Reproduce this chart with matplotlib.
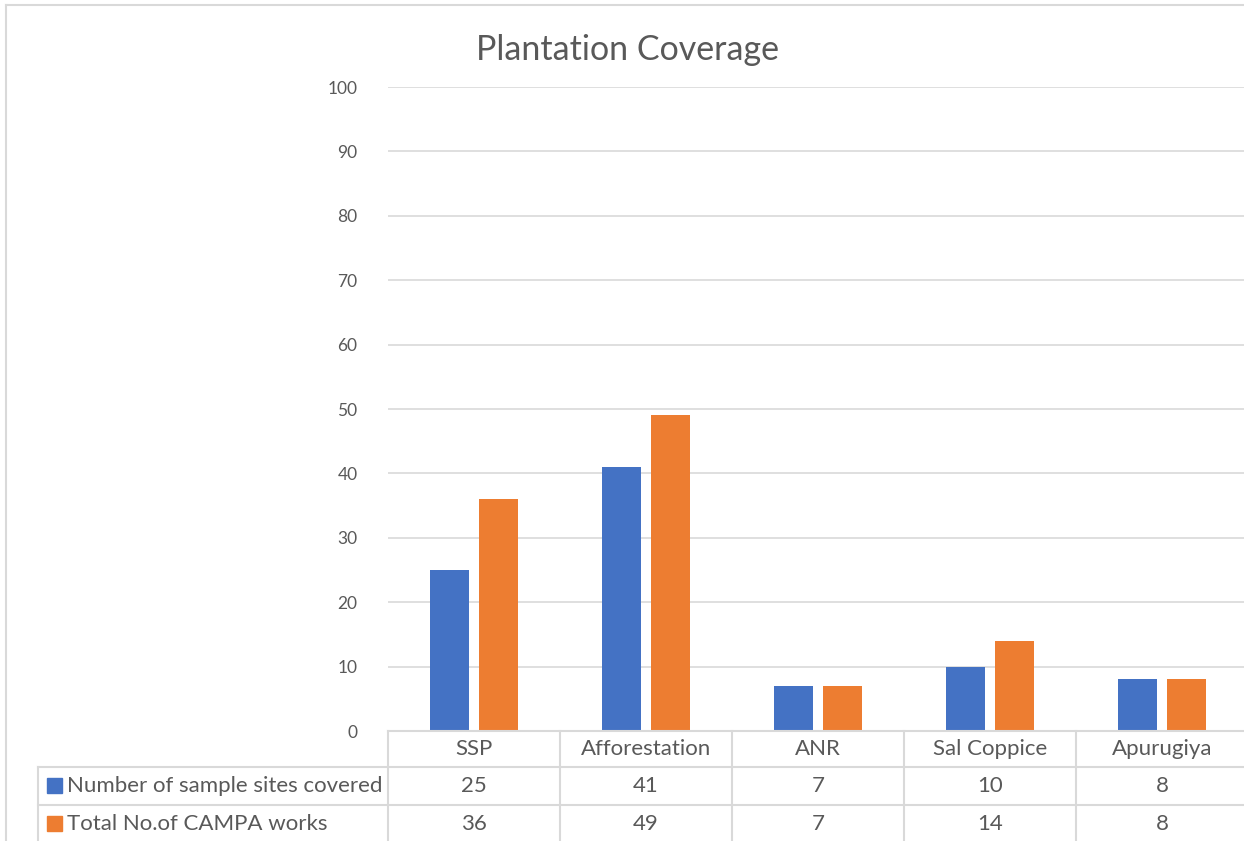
import numpy as np
import matplotlib.pyplot as plt
from matplotlib.lines import Line2D

# datos
categorias = ['SSP', 'Afforestation', 'ANR', 'Sal Coppice', 'Apurugiya']
sitios = [25, 41, 7, 10, 8]
obras = [36, 49, 7, 14, 8]
series = ['Number of sample sites covered', 'Total No.of CAMPA works']
colores = ['#4472C4', '#ED7D31']

plt.rcParams['font.family'] = ['Lato', 'DejaVu Sans']
gris = '#595959'
linea = '#d9d9d9'

W, H = 1244, 841
fig = plt.figure(figsize=(W / 100, H / 100), dpi=100)

def fx(px):
    return px / W

def fy(py):
    return 1 - py / H

x0, x1 = 388, 1248
y_top, y_zero = 87, 731
ax = fig.add_axes([fx(x0), fy(y_zero), fx(x1) - fx(x0), fy(y_top) - fy(y_zero)])

x = np.arange(len(categorias))
ancho = 0.228
desp = 0.143
ax.bar(x - desp, sitios, ancho, color=colores[0], zorder=3)
ax.bar(x + desp, obras, ancho, color=colores[1], zorder=3)

ax.set_xlim(-0.5, len(categorias) - 0.5)
ax.set_ylim(0, 100)
ax.set_yticks(range(0, 101, 10))
ax.yaxis.grid(True, color=linea, linewidth=1.2, zorder=0)
ax.set_xticks([])
for s in ax.spines.values():
    s.set_visible(False)
ax.tick_params(axis='y', length=0, pad=22, labelsize=12.5, labelcolor=gris)

fig.text(fx(627), fy(50), 'Plantation Coverage', ha='center', va='center',
         fontsize=24.5, color=gris)

# tabla de datos
col_w = (x1 - x0) / len(categorias)
filas = [731, 767, 805, 845]

def hline(y, xa, xb):
    fig.add_artist(Line2D([fx(xa), fx(xb)], [fy(y), fy(y)], color=linea, lw=1.5))

def vline(xp, ya, yb):
    fig.add_artist(Line2D([fx(xp), fx(xp)], [fy(ya), fy(yb)], color=linea, lw=1.5))

hline(filas[0], x0, W)
hline(filas[1], 38, W)
hline(filas[2], 38, W)
vline(38, filas[1], H)
for i in range(len(categorias)):
    vline(x0 + i * col_w, filas[0], H)

fs = 16
for i, cat in enumerate(categorias):
    cx = x0 + (i + 0.5) * col_w
    fig.text(fx(cx), fy(749), cat, ha='center', va='center', fontsize=fs, color=gris)
    fig.text(fx(cx), fy(786), str(sitios[i]), ha='center', va='center', fontsize=fs, color=gris)
    fig.text(fx(cx), fy(824), str(obras[i]), ha='center', va='center', fontsize=fs, color=gris)

for j, (nombre, c) in enumerate(zip(series, colores)):
    yc = 786 if j == 0 else 824
    fig.patches.append(plt.Rectangle((fx(47), fy(yc + 7)), fx(15), fy(0) - fy(15),
                                     transform=fig.transFigure, color=c, figure=fig))
    fig.text(fx(67), fy(yc), nombre, ha='left', va='center', fontsize=fs, color=gris)

# borde del gráfico
hline(5, 6, W)
vline(6, 5, H)

fig.savefig('out.png', dpi=100)
